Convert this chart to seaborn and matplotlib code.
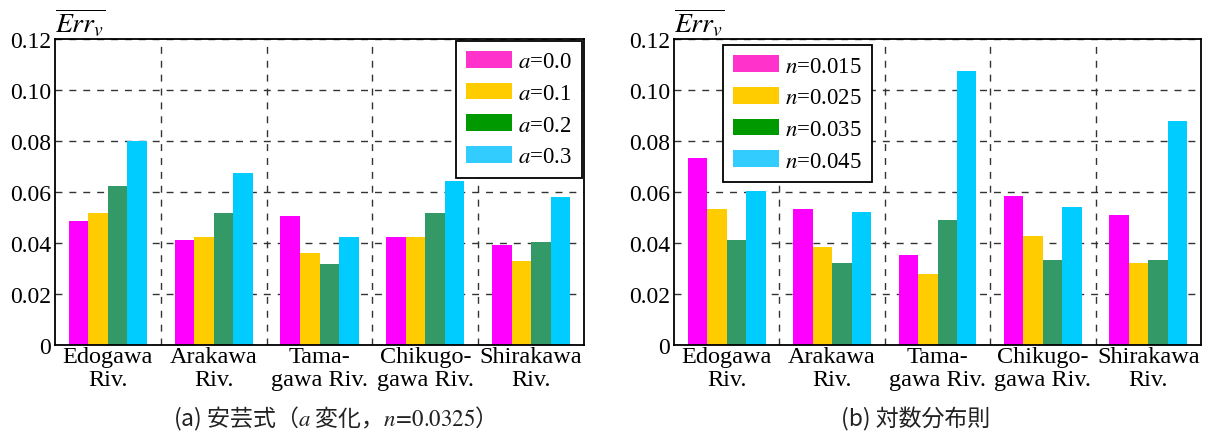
import numpy as np
import pandas as pd
import matplotlib
matplotlib.use("Agg")
import matplotlib.pyplot as plt
import seaborn as sns
from matplotlib.patches import Patch

# ---------------- data ----------------
rivers = ["Edogawa\nRiv.", "Arakawa\nRiv.", "Tama-\ngawa Riv.",
          "Chikugo-\ngawa Riv.", "Shirakawa\nRiv."]

labels_a = ["$a$=0.0", "$a$=0.1", "$a$=0.2", "$a$=0.3"]
err_a00 = [0.0488, 0.0410, 0.0507, 0.0422, 0.0391]
err_a01 = [0.0519, 0.0422, 0.0360, 0.0422, 0.0329]
err_a02 = [0.0625, 0.0518, 0.0317, 0.0518, 0.0403]
err_a03 = [0.0801, 0.0676, 0.0423, 0.0644, 0.0581]

labels_n = ["$n$=0.015", "$n$=0.025", "$n$=0.035", "$n$=0.045"]
err_n015 = [0.0732, 0.0533, 0.0354, 0.0583, 0.0511]
err_n025 = [0.0533, 0.0386, 0.0280, 0.0429, 0.0321]
err_n035 = [0.0410, 0.0321, 0.0492, 0.0334, 0.0334]
err_n045 = [0.0602, 0.0522, 0.1074, 0.0541, 0.0880]

yticks = [0.0, 0.02, 0.04, 0.06, 0.08, 0.10, 0.12]
ytick_labels = ["0", "0.02", "0.04", "0.06", "0.08", "0.10", "0.12"]
ylabel = r"$\overline{Err_v}$"
captions = ["(a) 安芸式（$a$ 変化，$n\\!=\\!\\mathrm{0.0325}$）", "(b) 対数分布則"]

bar_colors = ["#FF00FF", "#FFCC00", "#339966", "#00CCFF"]
legend_colors = ["#FF33CC", "#FFCC00", "#009900", "#33CCFF"]


def long_df(series, labels):
    rows = []
    for lab, vals in zip(labels, series):
        for r, v in zip(rivers, vals):
            rows.append({"river": r, "param": lab, "err": v})
    return pd.DataFrame(rows)


df_a = long_df([err_a00, err_a01, err_a02, err_a03], labels_a)
df_n = long_df([err_n015, err_n025, err_n035, err_n045], labels_n)

# ---------------- style ----------------
sns.set_theme(style="white")
plt.rcParams["font.family"] = ["Liberation Serif", "DejaVu Serif"]
plt.rcParams["mathtext.fontset"] = "stix"
plt.rcParams["axes.edgecolor"] = "black"
plt.rcParams["axes.linewidth"] = 1.3
plt.rcParams["text.color"] = "black"
plt.rcParams["xtick.color"] = "black"
plt.rcParams["ytick.color"] = "black"
plt.rcParams["xtick.labelcolor"] = "black"
plt.rcParams["ytick.labelcolor"] = "black"

W, H = 1212, 435
fig = plt.figure(figsize=(W / 100, H / 100), dpi=100)
ax1 = fig.add_axes([55 / W, 1 - 346 / H, 529 / W, 306 / H])
ax2 = fig.add_axes([674 / W, 1 - 346 / H, 527 / W, 306 / H])

grid_kw = dict(color="#333333", linewidth=1.0, linestyle=(0, (5, 5)))


def draw(ax, df, labels, legend_kw):
    sns.barplot(data=df, x="river", y="err", hue="param", order=rivers,
                hue_order=labels, palette=bar_colors, width=0.74,
                saturation=1, errorbar=None, legend=False, ax=ax,
                linewidth=0, edgecolor="none")
    ax.set_xlim(-0.5, len(rivers) - 0.5)
    ax.set_ylim(yticks[0], yticks[-1])
    ax.set_yticks(yticks, labels=ytick_labels)
    ax.set_xticks(range(len(rivers)), labels=rivers)
    ax.set_xticks(np.arange(len(rivers) - 1) + 0.5, minor=True)
    ax.set_xlabel("")
    ax.set_ylabel("")
    ax.set_axisbelow(True)
    ax.yaxis.grid(True, which="major", **grid_kw)
    ax.xaxis.grid(True, which="minor", **grid_kw)
    ax.xaxis.grid(False, which="major")
    ax.tick_params(axis="both", which="both", length=0)
    ax.tick_params(axis="y", labelsize=17, pad=3)
    ax.tick_params(axis="x", labelsize=17.5, pad=1)
    for t in ax.get_xticklabels():
        t.set_linespacing(1.1)
    for s in ax.spines.values():
        s.set_visible(True)
        s.set_color("black")
        s.set_linewidth(1.3)
    ax.text(0.0, 1.0, ylabel, transform=ax.transAxes, ha="left",
            va="bottom", fontsize=20)
    handles = [Patch(facecolor=c, edgecolor="none") for c in legend_colors]
    leg = ax.legend(handles, labels, fontsize=16.5, frameon=True,
                    fancybox=False, framealpha=1, edgecolor="black",
                    handlelength=2.0, handleheight=0.75, labelspacing=0.45,
                    handletextpad=0.25, borderpad=0.45, borderaxespad=0,
                    **legend_kw)
    leg.get_frame().set_linewidth(1.3)


draw(ax1, df_a, labels_a, dict(loc="upper right", bbox_to_anchor=(0.996, 0.995)))
draw(ax2, df_n, labels_n, dict(loc="upper left", bbox_to_anchor=(0.093, 0.981)))

cjk = ["Noto Sans CJK JP", "DejaVu Sans"]
fig.text(328 / W, 1 - 419 / H, captions[0], ha="center", va="center",
         fontsize=16.5, family=cjk, color="#222222")
fig.text(916 / W, 1 - 419 / H, captions[1], ha="center", va="center",
         fontsize=16.5, family=cjk, color="#222222")

fig.savefig("out.png", dpi=100)
